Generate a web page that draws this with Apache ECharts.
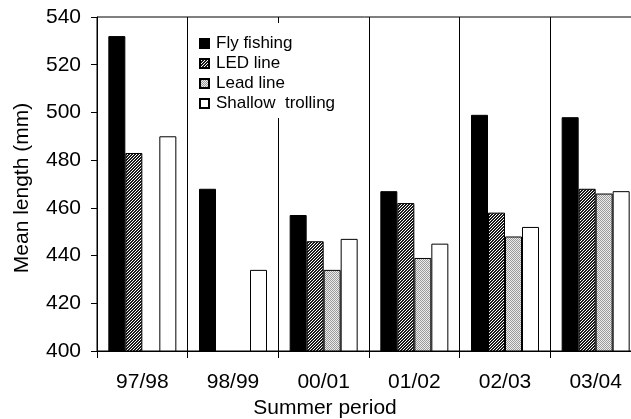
<!DOCTYPE html>
<html>
<head>
<meta charset="utf-8">
<script src="https://cdn.jsdelivr.net/npm/echarts@6/dist/echarts.min.js"></script>
<style>
    html, body { margin: 0; padding: 0; background: #fff; }
    #chart { width: 631px; height: 419px; }
</style>
</head>
<body>
<div id="chart"></div>
<script>
// data
var periods = ['97/98', '98/99', '00/01', '01/02', '02/03', '03/04'];
var flyFishing = [532, 468, 457, 467, 499, 498];
var ledLine = [483, null, 446, 462, 458, 468];
var leadLine = [null, null, 434, 439, 448, 466];
var shallowTrolling = [490, 434, 447, 445, 452, 467];
var yTicks = [400, 420, 440, 460, 480, 500, 520, 540];

// small canvas tiles used as fill patterns
function makeTile(size, pick) {
    var c = document.createElement('canvas');
    c.width = size;
    c.height = size;
    var ctx = c.getContext('2d');
    for (var y = 0; y < size; y++) {
        for (var x = 0; x < size; x++) {
            ctx.fillStyle = pick(x, y);
            ctx.fillRect(x, y, 1, 1);
        }
    }
    return c;
}

// LED line: diagonal hatch ////
var hatch = makeTile(3, function(x, y) {
    return (x + y) % 3 < 2 ? '#1a1a1a' : '#ffffff';
});
// Lead line: fine grey dots
var dots = makeTile(2, function(x, y) {
    return (x + y) % 2 === 0 ? '#9a9a9a' : '#ececec';
});

var font = 'Liberation Sans, Arial, sans-serif';

function barSeries(name, data, fill) {
    return {
        name: name,
        type: 'bar',
        data: data,
        barGap: '0%',
        barCategoryGap: '25%',
        itemStyle: {
            color: fill,
            borderColor: '#000',
            borderWidth: 1
        }
    };
}

var chart = echarts.init(document.getElementById('chart'), null, { renderer: 'canvas' });

chart.setOption({
    animation: false,
    backgroundColor: '#fff',
    textStyle: { fontFamily: font, color: '#000' },
    title: {
        text: 'Summer period',
        left: 320,
        top: 393,
        textAlign: 'center',
        textStyle: { fontFamily: font, fontSize: 21, fontWeight: 'normal', color: '#000' }
    },
    grid: {
        left: 97,
        top: 17,
        width: 544,
        height: 334,
        outerBoundsMode: 'none',
        containLabel: false,
        show: true,
        borderColor: '#000',
        borderWidth: 1,
        backgroundColor: 'transparent'
    },
    legend: {
        orient: 'vertical',
        left: 191,
        top: 23,
        padding: [12, 8, 6, 8],
        backgroundColor: '#fff',
        itemWidth: 9,
        itemHeight: 9,
        itemGap: 3,
        icon: 'rect',
        textStyle: { fontFamily: font, fontSize: 17, color: '#000', padding: [0, 0, 0, 2] },
        data: ['Fly fishing', 'LED line', 'Lead line', 'Shallow  trolling']
    },
    xAxis: {
        type: 'category',
        data: periods,
        axisLine: { lineStyle: { color: '#000', width: 1 } },
        axisTick: { show: true, length: 7, lineStyle: { color: '#000' } },
        axisLabel: { fontFamily: font, fontSize: 21, color: '#000', margin: 21 },
        splitLine: { show: true, lineStyle: { color: '#000', width: 1 } }
    },
    yAxis: {
        type: 'value',
        min: yTicks[0],
        max: yTicks[yTicks.length - 1],
        interval: 20,
        name: 'Mean length (mm)',
        nameLocation: 'middle',
        nameGap: 64,
        nameTextStyle: { fontFamily: font, fontSize: 21, color: '#000', padding: [0, 8, 0, 0] },
        axisLine: { show: true, lineStyle: { color: '#000', width: 1 } },
        axisTick: { show: true, length: 6, lineStyle: { color: '#000' } },
        axisLabel: { fontFamily: font, fontSize: 21, color: '#000', margin: 16 },
        splitLine: { show: false }
    },
    series: [
        barSeries('Fly fishing', flyFishing, '#000'),
        barSeries('LED line', ledLine, { image: hatch, repeat: 'repeat' }),
        barSeries('Lead line', leadLine, { image: dots, repeat: 'repeat' }),
        barSeries('Shallow  trolling', shallowTrolling, '#fff')
    ]
});
</script>
</body>
</html>
